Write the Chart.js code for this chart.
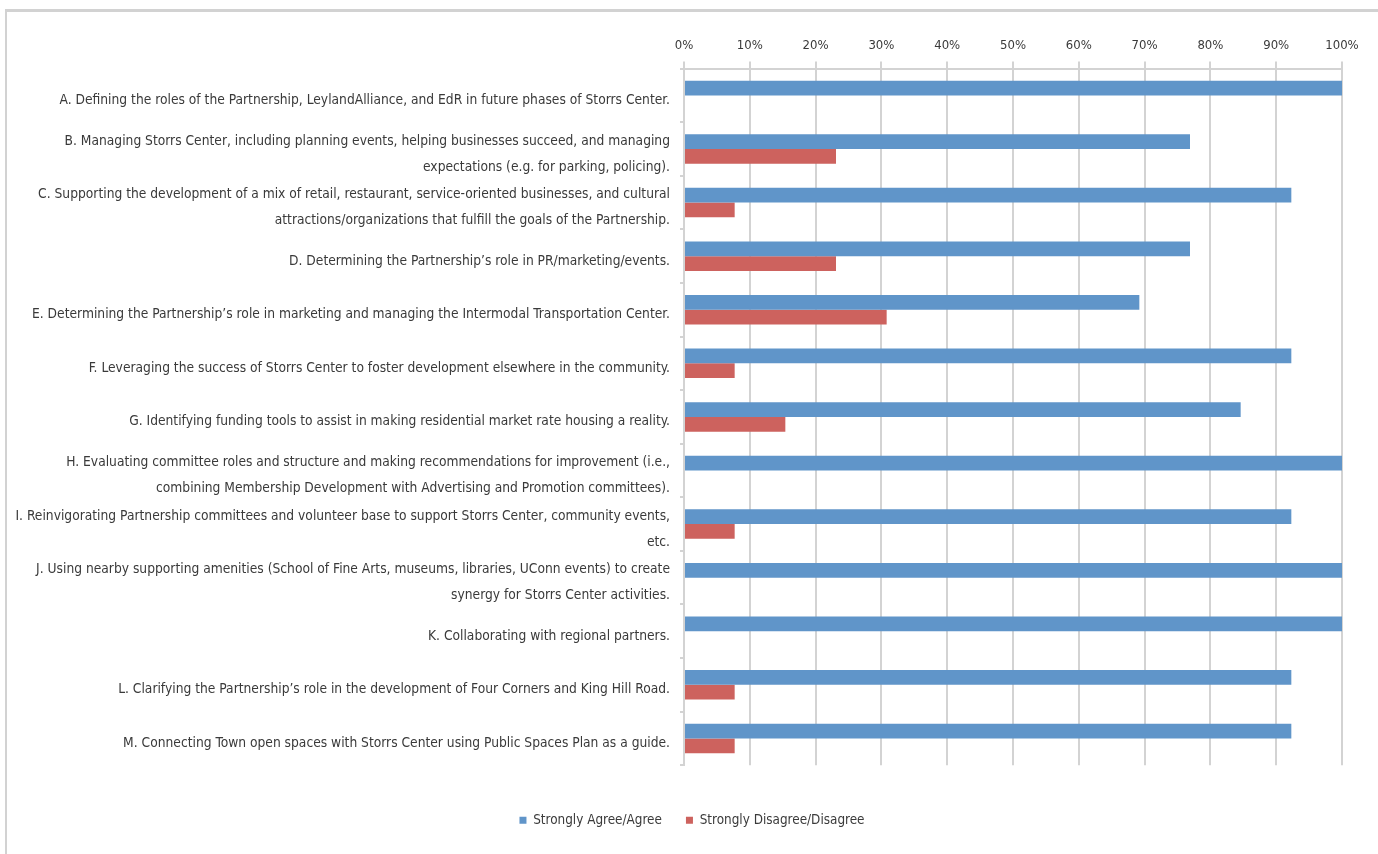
<!DOCTYPE html>
<html>
<head>
<meta charset="utf-8">
<title>Partnership priorities</title>
<script src="https://cdn.jsdelivr.net/npm/chart.js@4/dist/chart.umd.min.js"></script>
<style>
	html, body {
		margin: 0;
		padding: 0;
		background: #ffffff;
		overflow: hidden;
	}
	#frame {
		position: absolute;
		left: 5px;
		top: 9px;
		width: 1380px;
		height: 860px;
		border-top: 3px solid #d2d2d2;
		border-left: 2px solid #d2d2d2;
		pointer-events: none;
	}
	#chartWrap {
		position: absolute;
		left: 0;
		top: 0;
		width: 1378px;
		height: 854px;
	}
</style>
</head>
<body>
<div id="chartWrap"><canvas id="priorityChart"></canvas></div>
<div id="frame"></div>
<script>
	var categories = [
			[ "A. Defining the roles of the Partnership, LeylandAlliance, and EdR in future phases of Storrs Center." ],
			[ "B. Managing Storrs Center, including planning events, helping businesses succeed, and managing",
					"expectations (e.g. for parking, policing)." ],
			[ "C. Supporting the development of a mix of retail, restaurant, service-oriented businesses, and cultural",
					"attractions/organizations that fulfill the goals of the Partnership." ],
			[ "D. Determining the Partnership\u2019s role in PR/marketing/events." ],
			[ "E. Determining the Partnership\u2019s role in marketing and managing the Intermodal Transportation Center." ],
			[ "F. Leveraging the success of Storrs Center to foster development elsewhere in the community." ],
			[ "G. Identifying funding tools to assist in making residential market rate housing a reality." ],
			[ "H. Evaluating committee roles and structure and making recommendations for improvement (i.e.,",
					"combining Membership Development with Advertising and Promotion committees)." ],
			[ "I. Reinvigorating Partnership committees and volunteer base to support Storrs Center, community events,",
					"etc." ],
			[ "J. Using nearby supporting amenities (School of Fine Arts, museums, libraries, UConn events) to create",
					"synergy for Storrs Center activities." ],
			[ "K. Collaborating with regional partners." ],
			[ "L. Clarifying the Partnership\u2019s role in the development of Four Corners and King Hill Road." ],
			[ "M. Connecting Town open spaces with Storrs Center using Public Spaces Plan as a guide." ] ];

	var seriesNames = [ "Strongly Agree/Agree", "Strongly Disagree/Disagree" ];

	// percent of respondents, 13 responses per item
	var agreeValues = [ 100, 76.9, 92.3, 76.9, 69.2, 92.3, 84.6, 100, 92.3, 100, 100, 92.3, 92.3 ];
	var disagreeValues = [ 0, 23.1, 7.7, 23.1, 30.8, 7.7, 15.4, 0, 7.7, 0, 0, 7.7, 7.7 ];

	var percentTicks = [ 0, 10, 20, 30, 40, 50, 60, 70, 80, 90, 100 ];

	(function() {
		'use strict';
		var seriesColors = [ '#6095c9', '#cd625e' ];
		var textColor = '#3a3a3a';
		var gridColor = '#d3d3d3';
		var fontFamily = "'Liberation Sans Narrow', 'DejaVu Sans Condensed', sans-serif";

		// nudge the legend row a little to the right of the plot centre
		var legendShift = {
			id : 'legendShift',
			afterLayout : function(chart) {
				if (chart.legend) {
					chart.legend.left += 14;
					chart.legend.right += 14;
				}
			}
		};

		var ctx = document.getElementById('priorityChart');
		new Chart(ctx, {
			type : 'bar',
			data : {
				labels : categories,
				datasets : [ {
					label : seriesNames[0],
					data : agreeValues,
					backgroundColor : seriesColors[0],
					borderWidth : 0,
					categoryPercentage : 0.55,
					barPercentage : 1.0
				}, {
					label : seriesNames[1],
					data : disagreeValues,
					backgroundColor : seriesColors[1],
					borderWidth : 0,
					categoryPercentage : 0.55,
					barPercentage : 1.0
				} ]
			},
			plugins : [ legendShift ],
			options : {
				indexAxis : 'y',
				responsive : true,
				maintainAspectRatio : false,
				animation : false,
				layout : {
					padding : {
						left : 14,
						right : 36,
						top : 30,
						bottom : 17
					}
				},
				plugins : {
					legend : {
						position : 'bottom',
						// blank title only pushes the legend row down from the plot
						title : {
							display : true,
							text : ' ',
							padding : 5,
							font : {
								size : 12
							}
						},
						labels : {
							boxWidth : 7,
							boxHeight : 7,
							padding : 24,
							color : textColor,
							font : {
								family : fontFamily,
								size : 13.4
							}
						}
					},
					tooltip : {
						enabled : false
					}
				},
				scales : {
					x : {
						position : 'top',
						min : 0,
						max : 100,
						afterBuildTicks : function(scale) {
							scale.ticks = percentTicks.map(function(v) {
								return {
									value : v
								};
							});
						},
						ticks : {
							color : textColor,
							padding : 8,
							font : {
								family : fontFamily,
								size : 13
							},
							callback : function(value) {
								return value + '%';
							}
						},
						grid : {
							color : gridColor,
							lineWidth : 2,
							tickLength : 7
						},
						border : {
							color : gridColor,
							width : 2
						}
					},
					y : {
						afterFit : function(scale) {
							scale.width = 670;
						},
						ticks : {
							autoSkip : false,
							color : textColor,
							padding : 10,
							labelOffset : 5,
							font : {
								family : fontFamily,
								size : 13.7,
								lineHeight : 1.9
							}
						},
						grid : {
							drawOnChartArea : false,
							color : gridColor,
							lineWidth : 2,
							tickLength : 4
						},
						border : {
							color : gridColor,
							width : 2
						}
					}
				}
			}
		});
	})();
</script>
</body>
</html>
